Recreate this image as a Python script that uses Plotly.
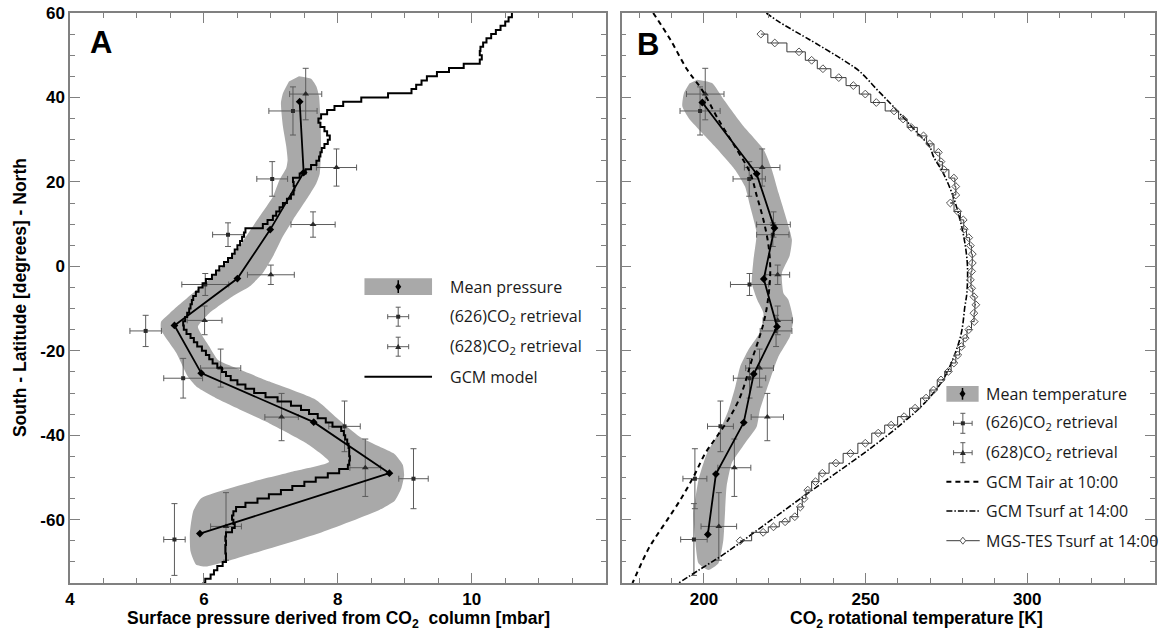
import plotly.graph_objects as go

# ---------------- data ----------------
# retrieval latitudes (shared by both panels)
lat_626 = [36.8, 20.7, 7.5, -4.3, -15.3, -26.5, -37.9, -50.3, -64.7]
lat_626_err = [5.7, 4.1, 2.8, 2.6, 3.7, 4.7, 6.0, 7.1, 8.5]
lat_628 = [40.8, 23.4, 9.9, -2.0, -12.8, -24.1, -35.7, -47.7, -61.6]
lat_628_err = [6.1, 4.4, 3.0, 2.3, 3.4, 4.5, 5.6, 6.8, 8.0]

# Panel A: surface pressure [mbar]
p_626 = [7.33, 7.02, 6.36, 6.02, 5.13, 5.69, 8.10, 9.13, 5.56]
p_626_err = [0.36, 0.23, 0.23, 0.35, 0.235, 0.29, 0.235, 0.22, 0.16]
p_628 = [7.52, 7.98, 7.63, 7.00, 6.01, 6.25, 7.16, 8.41, 6.33]
p_628_err = [0.24, 0.30, 0.33, 0.35, 0.26, 0.30, 0.25, 0.23, 0.23]
lat_mean_A = [39.0, 22.2, 8.7, -2.9, -14.0, -25.3, -36.9, -49.0, -63.3]
p_mean = [7.43, 7.49, 6.99, 6.50, 5.56, 5.96, 7.64, 8.77, 5.94]

# uncertainty envelope of the mean pressure (outline)
band_A_p = [7.42, 7.60, 7.68, 7.72, 7.74, 7.75, 7.73, 7.68, 7.53, 7.33, 7.18, 7.03, 6.88, 6.68,
            6.42, 6.08, 5.91, 6.08, 6.21, 6.48, 6.98, 7.67, 8.02, 8.32, 8.62, 8.85, 8.97, 8.99,
            8.95, 8.85, 8.62, 7.72, 6.73, 6.03, 5.88, 5.80, 5.79, 5.84, 5.96, 6.73, 7.33, 7.87,
            7.53, 6.98, 6.23, 5.89, 5.76, 5.59, 5.36, 5.36, 5.49, 5.66, 5.89, 6.13, 6.33, 6.46,
            6.63, 6.83, 7.03, 7.13, 7.23, 7.25, 7.23, 7.18, 7.15, 7.18, 7.27]
band_A_lat = [45.0, 44.4, 42.6, 40.2, 35.0, 28.0, 22.0, 19.7, 15.8, 11.0, 7.1, 2.3, -1.6, -4.8,
              -7.2, -11.1, -14.3, -19.0, -22.2, -24.1, -27.3, -31.6, -36.4, -40.3, -42.7, -44.5, -47.0, -49.5,
              -52.5, -55.5, -57.7, -63.2, -68.0, -71.1, -70.6, -67.5, -63.2, -58.0, -54.9, -51.0, -48.6, -46.3,
              -41.9, -37.2, -31.6, -28.5, -26.1, -20.6, -15.1, -13.1, -11.1, -8.7, -5.6, -2.4, 0.8, 3.1,
              7.1, 11.8, 16.5, 20.5, 23.3, 25.2, 28.4, 33.1, 38.7, 41.0, 43.8]

# GCM model surface pressure, 1-degree latitude bins
gcm_lat = list(range(-75, 61))
gcm_p = [5.98, 6.02, 6.10, 6.15, 6.20, 6.28, 6.33, 6.33, 6.32, 6.32, 6.33, 6.32, 6.33, 6.42, 6.46, 6.44, 6.42, 6.44, 6.48,
         6.62, 6.80, 6.97, 7.15, 7.32, 7.50, 7.67, 7.85, 8.02, 8.15,
         8.17, 8.18, 8.17, 8.17, 8.16, 8.14, 8.11, 8.09, 8.05,
         7.92, 7.82, 7.70, 7.57, 7.45, 7.30, 7.10, 6.92, 6.75, 6.62, 6.50, 6.40, 6.33,
         6.27, 6.20, 6.13, 6.08, 6.03, 5.97, 5.90, 5.85, 5.80, 5.74, 5.70, 5.69,
         5.72, 5.75, 5.78, 5.80, 5.82, 5.84, 5.88, 5.92, 5.98, 6.03, 6.12, 6.18,
         6.23, 6.30, 6.36, 6.42, 6.46, 6.50, 6.54, 6.57, 6.60, 6.62,
         6.88, 6.95, 7.03, 7.08, 7.13, 7.18, 7.24, 7.30, 7.34, 7.35, 7.34, 7.33,
         7.43, 7.52, 7.60, 7.68, 7.72, 7.74, 7.76, 7.80, 7.85, 7.88, 7.84, 7.80, 7.74, 7.71,
         7.75, 7.84, 7.95, 8.08, 8.35, 8.75, 9.10, 9.17, 9.25, 9.33, 9.48, 9.66, 9.88, 10.12,
         10.15, 10.12, 10.13, 10.17, 10.22, 10.29, 10.36, 10.43, 10.50, 10.55, 10.60]

# Panel B: CO2 rotational temperature [K]
T_626 = [198.8, 214.0, 221.3, 214.1, 222.3, 214.1, 205.1, 197.2, 196.9]
T_626_err = [6.2, 5.0, 5.0, 5.9, 4.9, 5.0, 4.0, 3.7, 4.1]
T_628 = [200.4, 218.0, 221.5, 222.8, 222.8, 217.2, 219.6, 209.4, 204.6]
T_628_err = [5.8, 5.5, 5.2, 3.7, 4.5, 4.3, 5.0, 5.1, 5.5]
lat_mean_B = [38.8, 21.9, 9.05, -3.0, -14.3, -25.5, -37.0, -49.2, -63.5]
T_mean = [199.5, 216.3, 221.8, 218.5, 222.6, 215.4, 212.3, 203.7, 201.2]

band_B_T = [197.9, 202.5, 206.1, 212.3, 218.5, 221.0, 223.1, 225.6, 227.2, 226.5, 224.1, 224.6, 226.1,
            227.6, 226.6, 223.0, 220.4, 217.3, 216.3, 212.7, 208.6, 207.0, 206.5, 206.0, 204.5, 201.4,
            198.3, 197.3, 196.8, 198.3, 200.9, 204.5, 207.6, 209.7, 211.2, 213.7, 217.8, 218.4, 216.5,
            214.8, 215.3, 216.3, 214.3, 212.7, 209.6, 203.4, 195.3, 193.3, 193.8, 195.5]
band_B_lat = [44.2, 43.4, 39.5, 33.1, 27.6, 22.9, 17.3, 11.0, 6.3, 2.5, -1.6, -6.4, -7.9,
              -12.7, -16.6, -21.4, -26.9, -34.0, -38.0, -41.9, -46.6, -52.2, -58.5, -64.8, -70.3, -71.9,
              -70.3, -64.8, -58.5, -50.6, -44.3, -39.5, -34.0, -28.5, -23.7, -19.8, -15.0, -11.1, -8.0,
              -4.0, 1.5, 7.9, 14.2, 18.9, 22.9, 28.4, 35.1, 37.9, 41.0, 43.3]

tair_lat = [60.0, 53.7, 46.6, 41.8, 34.7, 27.6, 22.1, 16.5, 11.0, 4.7, -1.6, -9.0, -13.5, -17.4,
            -22.2, -26.1, -30.9, -35.6, -40.3, -44.3, -49.8, -55.3, -60.1, -64.8, -66.8, -75.0]
tair_T = [184.3, 189.6, 194.8, 199.4, 204.5, 210.2, 214.3, 216.4, 218.4, 220.0, 220.5, 219.6, 218.4, 216.9,
          214.8, 213.3, 211.2, 208.1, 204.0, 200.4, 196.8, 192.7, 188.6, 184.5, 182.9, 177.9]

tsurf_lat = [60.0, 58.0, 54.5, 52.9, 48.9, 46.2, 41.8, 37.9, 31.6, 28.4, 26.0, 22.1, 16.5, 11.0, 5.5, 0.0,
             -6.4, -9.5, -15.8, -21.4, -26.9, -32.4, -37.2, -42.7, -49.0, -55.3, -61.7, -68.0, -71.9, -75.0]
tsurf_T = [219.3, 223.0, 230.8, 234.4, 243.0, 248.1, 253.6, 258.5, 266.0, 269.8, 271.0, 274.0, 277.1, 279.2,
           280.7, 281.5, 281.3, 280.7, 279.6, 277.3, 273.9, 268.2, 261.3, 252.2, 240.8, 229.3, 217.9, 206.5,
           198.5, 192.2]

tes_lat = [55.0, 52.9, 50.8, 48.8, 46.8, 44.7, 42.8, 40.8, 38.8, 36.8, 34.9, 32.9, 30.9, 29.0, 27.0, 24.8,
           22.9, 20.9, 18.9, 16.9, 15.0, 13.0, 11.0, 8.8, 6.8, 4.9, 2.9, 0.8, -1.2, -3.2, -5.2, -7.2, -9.1,
           -11.1, -13.1, -15.0, -17.0, -19.0, -21.0, -22.9, -24.9, -26.9, -29.3, -31.2, -33.6, -35.6, -37.6,
           -39.5, -41.9, -44.3, -46.6, -49.0, -51.0, -53.0, -55.0, -57.0, -59.3, -60.5, -61.7, -63.0, -65.0]
tes_T = [217.6, 221.9, 229.4, 233.3, 236.8, 241.7, 246.2, 249.9, 253.3, 258.8, 261.6, 264.1, 267.9, 269.8,
         272.5, 273.3, 274.2, 277.3, 277.9, 277.9, 276.2, 278.5, 280.2, 280.5, 281.9, 282.4, 283.0, 283.0,
         282.8, 282.4, 282.8, 283.5, 284.1, 283.5, 283.6, 281.9, 280.8, 279.6, 278.5, 277.3, 275.6, 273.3,
         271.0, 268.7, 265.3, 261.9, 257.9, 253.9, 249.9, 245.3, 240.8, 236.6, 234.5, 232.1, 231.0, 229.8,
         228.1, 225.1, 221.5, 218.3, 211.2]

# tick labels
lat_ticks = [-60, -40, -20, 0, 20, 40, 60]
lat_labels = ['-60', '-40', '-20', '0', '20', '40', '60']
p_ticks = [4, 6, 8, 10]
p_labels = ['4', '6', '8', '10']
T_ticks = [200, 250, 300]
T_labels = ['200', '250', '300']

# ---------------- styling ----------------
BAND = '#a9a9a9'
ERR = '#5c5c5c'
AXC = '#808080'
TXT = '#1a1a1a'
BOLD = 'Liberation Sans'
LEG = 'Open Sans'

W, H = 1160, 630
ML, MR, MT, MB = 70, 3, 13, 47
PW, PH = W - ML - MR, H - MT - MB


def PX(x):
    return (x - ML) / PW


def PY(y):
    return (H - MB - y) / PH


def bold(labels):
    return ['<b>' + s + '</b>' for s in labels]


fig = go.Figure()


def err_trace(x, y, ex, ey, sym, size, xa, ya):
    fig.add_trace(go.Scatter(
        x=x, y=y, mode='markers', xaxis=xa, yaxis=ya, hoverinfo='skip',
        marker=dict(symbol=sym, size=size, color='#2a2a2a', line=dict(width=0)),
        error_x=dict(type='data', array=ex, color=ERR, thickness=1, width=3),
        error_y=dict(type='data', array=ey, color=ERR, thickness=1, width=3)))


# ---- Panel A ----
fig.add_trace(go.Scatter(x=band_A_p, y=band_A_lat, mode='lines', fill='toself', fillcolor=BAND,
                         line=dict(width=0, color=BAND, shape='spline', smoothing=0.5),
                         xaxis='x', yaxis='y', hoverinfo='skip'))
err_trace(p_626, lat_626, p_626_err, lat_626_err, 'square', 4, 'x', 'y')
err_trace(p_628, lat_628, p_628_err, lat_628_err, 'triangle-up', 6, 'x', 'y')
fig.add_trace(go.Scatter(x=gcm_p, y=gcm_lat, mode='lines', line=dict(color='black', width=2, shape='hv'),
                         xaxis='x', yaxis='y', hoverinfo='skip'))
fig.add_trace(go.Scatter(x=p_mean, y=lat_mean_A, mode='lines+markers',
                         line=dict(color='black', width=1.8),
                         marker=dict(symbol='diamond', size=6, color='black'),
                         xaxis='x', yaxis='y', hoverinfo='skip'))

# ---- Panel B ----
fig.add_trace(go.Scatter(x=band_B_T, y=band_B_lat, mode='lines', fill='toself', fillcolor=BAND,
                         line=dict(width=0, color=BAND, shape='spline', smoothing=0.5),
                         xaxis='x2', yaxis='y2', hoverinfo='skip'))
err_trace(T_626, lat_626, T_626_err, lat_626_err, 'square', 4, 'x2', 'y2')
err_trace(T_628, lat_628, T_628_err, lat_628_err, 'triangle-up', 6, 'x2', 'y2')
fig.add_trace(go.Scatter(x=tair_T, y=tair_lat, mode='lines',
                         line=dict(color='black', width=2, dash='5px,4px', shape='spline'),
                         xaxis='x2', yaxis='y2', hoverinfo='skip'))
fig.add_trace(go.Scatter(x=tsurf_T, y=tsurf_lat, mode='lines',
                         line=dict(color='black', width=1.6, dash='6px,2px,1.5px,2px', shape='spline'),
                         xaxis='x2', yaxis='y2', hoverinfo='skip'))
fig.add_trace(go.Scatter(x=tes_T, y=tes_lat, mode='lines+markers',
                         line=dict(color='#3a3a3a', width=1, shape='hvh'),
                         marker=dict(symbol='diamond-open', size=6, color='#555555', line=dict(width=1)),
                         xaxis='x2', yaxis='y2', hoverinfo='skip'))
fig.add_trace(go.Scatter(x=T_mean, y=lat_mean_B, mode='lines+markers',
                         line=dict(color='black', width=1.8),
                         marker=dict(symbol='diamond', size=6, color='black'),
                         xaxis='x2', yaxis='y2', hoverinfo='skip'))

# ---------------- axes ----------------
tickfont = dict(family=BOLD, size=17, color='black')
common = dict(showline=True, linecolor=AXC, linewidth=1.5, mirror='allticks', ticks='inside',
              ticklen=10, tickwidth=1.3, tickcolor=AXC, showgrid=False, zeroline=False,
              tickfont=tickfont)

fig.update_layout(
    width=W, height=H, margin=dict(l=ML, r=MR, t=MT, b=MB),
    plot_bgcolor='white', paper_bgcolor='white', showlegend=False,
    xaxis=dict(domain=[0, 0.4937], range=[4, 12], anchor='y',
               tickvals=p_ticks, ticktext=bold(p_labels),
               minor=dict(ticks='inside', ticklen=5, tickwidth=1.3, tickcolor=AXC, dtick=0.5, tick0=4),
               **common),
    yaxis=dict(domain=[0, 1], range=[-75, 60], anchor='x', tickvals=lat_ticks, ticktext=bold(lat_labels),
               minor=dict(ticks='inside', ticklen=5, tickwidth=1.3, tickcolor=AXC, dtick=5, tick0=0),
               **common),
    xaxis2=dict(domain=[0.5083, 1], range=[174.5, 339.5], anchor='y2',
                tickvals=T_ticks, ticktext=bold(T_labels),
                minor=dict(ticks='inside', ticklen=5, tickwidth=1.3, tickcolor=AXC, dtick=10, tick0=180),
                **common),
    yaxis2=dict(domain=[0, 1], range=[-75, 60], anchor='x2', tickvals=lat_ticks, showticklabels=False,
                minor=dict(ticks='inside', ticklen=5, tickwidth=1.3, tickcolor=AXC, dtick=5, tick0=0),
                **common),
)

# ---------------- titles & panel letters ----------------
ann = []
titlefont = dict(family=BOLD, size=17.5, color='black', weight='bold')
ann.append(dict(text='Surface pressure derived from CO<sub>2</sub>  column [mbar]', x=PX(338.5), y=PY(619),
                xref='paper', yref='paper', xanchor='center', yanchor='middle', showarrow=False, font=titlefont))
ann.append(dict(text='CO<sub>2</sub> rotational temperature [K]', x=PX(918), y=PY(619),
                xref='paper', yref='paper', xanchor='center', yanchor='middle', showarrow=False, font=titlefont))
ann.append(dict(text='South - Latitude [degrees] - North', x=PX(20), y=PY(298), textangle=-90,
                xref='paper', yref='paper', xanchor='center', yanchor='middle', showarrow=False, font=titlefont))
letterfont = dict(family=BOLD, size=31, color='black', weight='bold')
ann.append(dict(text='A', x=PX(88), y=PY(42), xref='paper', yref='paper', xanchor='left', yanchor='middle',
                showarrow=False, font=letterfont))
ann.append(dict(text='B', x=PX(636.5), y=PY(44.5), xref='paper', yref='paper', xanchor='left',
                yanchor='middle', showarrow=False, font=letterfont))

# ---------------- legends (drawn as layout items) ----------------
shapes = []
legfont = dict(family=LEG, size=16, color=TXT)


def line(x0, y0, x1, y1, color='black', width=1, dash='solid'):
    shapes.append(dict(type='line', xref='paper', yref='paper', x0=PX(x0), y0=PY(y0), x1=PX(x1), y1=PY(y1),
                       line=dict(color=color, width=width, dash=dash)))


def poly(pts, fill, lcol=None, lw=0):
    d = 'M ' + ' L '.join(f'{PX(a):.5f},{PY(b):.5f}' for a, b in pts) + ' Z'
    shapes.append(dict(type='path', xref='paper', yref='paper', path=d, fillcolor=fill,
                       line=dict(color=lcol or fill, width=lw)))


def text(s, x, y):
    ann.append(dict(text=s, x=PX(x), y=PY(y), xref='paper', yref='paper', xanchor='left', yanchor='middle',
                    showarrow=False, font=legfont))


def mean_sym(x0, x1, y0, y1):
    cx, cy = (x0 + x1) / 2, (y0 + y1) / 2
    shapes.append(dict(type='rect', xref='paper', yref='paper', x0=PX(x0), x1=PX(x1), y0=PY(y1), y1=PY(y0),
                       fillcolor=BAND, line=dict(width=0)))
    line(cx, y0 + 2, cx, y1 - 2, 'black', 1.5)
    poly([(cx, cy - 4), (cx + 3, cy), (cx, cy + 4), (cx - 3, cy)], 'black')


def err_sym(cx, cy, hx, hy, kind):
    line(cx - hx, cy, cx + hx, cy, ERR, 1)
    line(cx, cy - hy, cx, cy + hy, ERR, 1)
    for sx in (-hx, hx):
        line(cx + sx, cy - 2.5, cx + sx, cy + 2.5, ERR, 1)
    for sy in (-hy, hy):
        line(cx - 2.5, cy + sy, cx + 2.5, cy + sy, ERR, 1)
    if kind == 'sq':
        poly([(cx - 2, cy - 2), (cx + 2, cy - 2), (cx + 2, cy + 2), (cx - 2, cy + 2)], '#2a2a2a')
    else:
        poly([(cx, cy - 3), (cx + 3, cy + 2.2), (cx - 3, cy + 2.2)], '#2a2a2a')


# Legend A
mean_sym(365, 432.7, 278.3, 295)
text('Mean pressure', 449, 286.7)
err_sym(398.8, 316.7, 10.5, 9.5, 'sq')
text('(626)CO<sub>2</sub> retrieval', 449, 316.7)
err_sym(398.8, 346.7, 10.5, 9.5, 'tri')
text('(628)CO<sub>2</sub> retrieval', 449, 346.7)
line(365, 376.7, 432.7, 376.7, 'black', 2)
text('GCM model', 449, 376.7)

# Legend B
mean_sym(948, 980.3, 386, 401.7)
text('Mean temperature', 986, 393.5)
err_sym(964.5, 423.3, 9.3, 10, 'sq')
text('(626)CO<sub>2</sub> retrieval', 986, 422.7)
err_sym(964.5, 452.7, 9.3, 10, 'tri')
text('(628)CO<sub>2</sub> retrieval', 986, 452.7)
line(948, 481.7, 981.4, 481.7, 'black', 2, '5px,4px')
text('GCM Tair at 10:00', 986, 481.7)
line(948, 511, 981.4, 511, 'black', 1.6, '6px,2px,1.5px,2px')
text('GCM Tsurf at 14:00', 986, 511)
line(948, 540.7, 981.4, 540.7, '#3a3a3a', 1)
poly([(964.5, 537.2), (967.3, 540.7), (964.5, 544.2), (961.7, 540.7)], 'white', '#555555', 1)
text('MGS-TES Tsurf at 14:00', 986, 540.7)

fig.update_layout(annotations=ann, shapes=shapes)
fig.write_html('out.html')
